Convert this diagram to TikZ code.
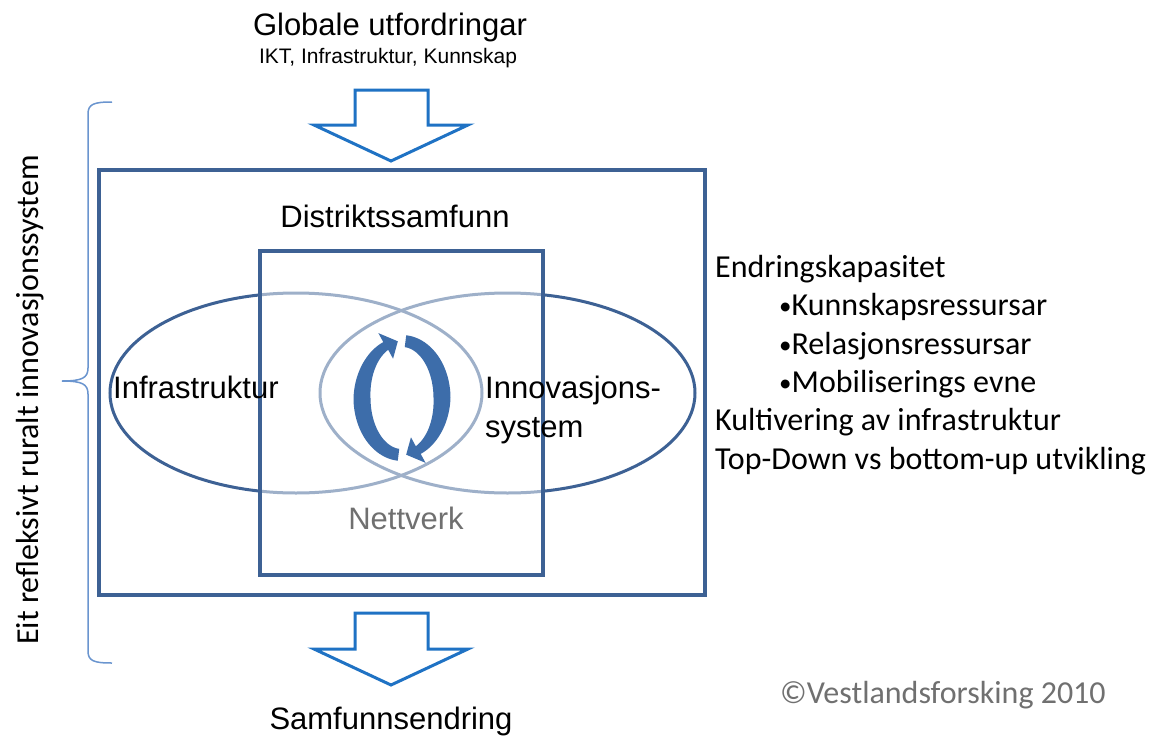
\documentclass[tikz,border=0pt]{standalone}
\usepackage{fontspec}
\setmainfont{Liberation Sans}
\newfontfamily\calfont{Carlito}
\definecolor{frame}{HTML}{3D6194}
\definecolor{blockblue}{HTML}{1F72C4}
\definecolor{bracecol}{HTML}{6A95CF}
\definecolor{cyc}{HTML}{3D6DAA}
\definecolor{greytext}{HTML}{707070}
\tikzset{
  blockarrow/.style={draw=blockblue, line width=3pt, fill=white, line join=miter},
  boxline/.style={draw=frame, line width=3.5pt},
  ringline/.style={draw=frame, line width=3pt},
  big/.style={font=\fontsize{31}{37}\selectfont, inner sep=0pt},
  small/.style={font=\fontsize{21}{25}\selectfont, inner sep=0pt},
  cal/.style={font=\calfont\fontsize{32}{38}\selectfont, inner sep=0pt, anchor=base west},
}
\newcommand\bul{{\fontsize{25}{25}\selectfont\raisebox{1pt}{•}}}
\newcommand\cycarrow{%
\fill[cyc]
  plot[domain=265:114, samples=60] ({402+(40+0.5*min(17,12+5*(\x-114)/66))*cos(\x)},{398-(57+0.35*min(17,12+5*(\x-114)/66))*sin(\x)})
  -- ({402+(40+18)*cos(114)},{398-(57+14)*sin(114)})
  -- ({402+40*cos(96)},{398-57*sin(96)})
  -- ({402+(40-18)*cos(114)},{398-(57-14)*sin(114)})
  -- plot[domain=114:265, samples=60] ({402+(40-0.5*min(17,12+5*(\x-114)/66))*cos(\x)},{398-(57-0.35*min(17,12+5*(\x-114)/66))*sin(\x)})
  -- cycle;}
\begin{document}
\begin{tikzpicture}[x=1pt, y=-1pt]
\useasboundingbox (0,0) rectangle (1159,736);
\fill[white] (0,0) rectangle (1159,736);

% titles
\node[big, anchor=base] (glob) at (390,35) {Globale utfordringar};
\node[small, anchor=base] (ikt) at (388,63) {IKT, Infrastruktur, Kunnskap};

% top block arrow
\draw[blockarrow] (355,90) -- (428,90) -- (428,125) -- (468,125) -- (391,161) -- (314,125) -- (355,125) -- cycle;
% bottom block arrow
\draw[blockarrow] (355,613) -- (428,613) -- (428,649) -- (468,649) -- (391,685) -- (314,649) -- (355,649) -- cycle;

% outer frame
\draw[boxline] (99,170) rectangle (705,595);

% ellipses
\draw[ringline] (296,393) ellipse [x radius=186, y radius=100];
\draw[ringline] (507.5,393) ellipse [x radius=187.5, y radius=100];

% inner frame with translucent fill
\fill[white, fill opacity=0.5] (260,251) rectangle (543,575);
\draw[boxline] (260,251) rectangle (543,575);

% circular arrows
\cycarrow
\begin{scope}[rotate around={180:(402,398)}]
\cycarrow
\end{scope}

% labels inside
\node[big, anchor=base] (dist) at (395,227) {Distriktssamfunn};
\node[big, anchor=base west] (infra) at (113,398) {Infrastruktur};
\node[big, anchor=base west] (inn1) at (485,398) {Innovasjons-};
\node[big, anchor=base west] (inn2) at (485,437) {system};
\node[big, anchor=base, text=greytext] (nett) at (406,529) {Nettverk};
\node[big, anchor=base] (samf) at (391,729) {Samfunnsendring};

% right text
\node[cal] (r1) at (715,277) {Endringskapasitet};
\node[cal] (r2) at (779,315.5) {\bul Kunnskapsressursar};
\node[cal] (r3) at (779,354) {\bul Relasjonsressursar};
\node[cal] (r4) at (779,392) {\bul Mobiliserings evne};
\node[cal] (r5) at (715,430.5) {Kultivering av infrastruktur};
\node[cal] (r6) at (715,469) {Top-Down vs bottom-up utvikling};

\node[cal, text=greytext] (copy) at (780,703) {©Vestlandsforsking 2010};

% brace
\draw[bracecol, line width=1.5pt] (112,102) .. controls (94,102) and (88,104) .. (88,114) -- (88,368) .. controls (88,378) and (82,381) .. (62,381) .. controls (82,381) and (88,384) .. (88,394) -- (88,651) .. controls (88,661) and (94,663) .. (112,663);

% vertical label
\node[font=\calfont\fontsize{32}{38}\selectfont, inner sep=0pt, anchor=base, rotate=90] (vert) at (38,400) {Eit refleksivt ruralt innovasjonssystem};
\end{tikzpicture}
\end{document}
